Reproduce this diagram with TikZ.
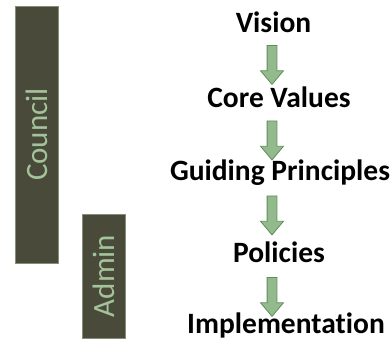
\documentclass[tikz,border=0pt]{standalone}
\usepackage{fontspec}
\setmainfont{Carlito}[Ligatures=NoCommon]
\usetikzlibrary{shapes.arrows}
\definecolor{barfill}{HTML}{4A4A3B}
\definecolor{bartext}{HTML}{A3C39A}
\definecolor{arrowfill}{HTML}{92BA8C}
\definecolor{arrowline}{HTML}{5F8F58}
\begin{document}
\begin{tikzpicture}[x=1pt,y=-1pt,
    level/.style={anchor=base,font=\fontsize{29.5}{30}\selectfont\bfseries},
    bar/.style={rotate=90,fill=barfill,draw=bartext!60!barfill,line width=0.6pt,
      text=bartext,font=\fontsize{31}{31}\selectfont,inner sep=0pt},
    down/.style={single arrow,shape border rotate=270,draw=arrowline,fill=arrowfill,
      line width=0.8pt,minimum height=39pt,minimum width=22pt,inner sep=4.5pt,
      single arrow head extend=6.5pt,single arrow tip angle=80}]
  \useasboundingbox (0,0) rectangle (392,343);
  % the two bodies on the left
  \node[bar,minimum width=257pt,minimum height=43pt] (council) at (36.5,134.5) {Council};
  \node[bar,minimum width=124pt,minimum height=43pt] (admin) at (103.5,276) {Admin};
  % the chain
  \node[level] (vision) at (273.5,32) {Vision};
  \node[level] (core) at (279,107) {Core Values};
  \node[level] (guiding) at (280,180) {Guiding Principles};
  \node[level] (policies) at (279,262) {Policies};
  \node[level] (impl) at (286,333) {Implementation};
  \node[down] (arr1) at (272,62) {};
  \node[down] (arr2) at (272,137.5) {};
  \node[down] (arr3) at (272,212.5) {};
  \node[down] (arr4) at (272,294) {};
\end{tikzpicture}
\end{document}
